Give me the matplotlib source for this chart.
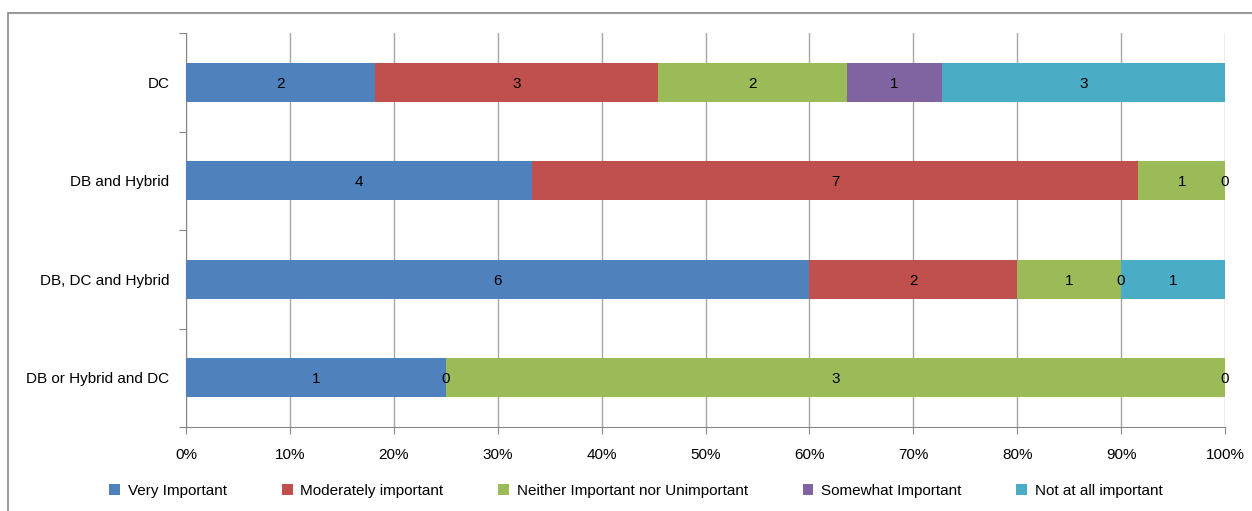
import numpy as np
import matplotlib.pyplot as plt
from matplotlib.patches import Rectangle
from matplotlib.ticker import PercentFormatter

plt.rcParams['font.family'] = ['Liberation Sans', 'DejaVu Sans']

categories = ["DC", "DB and Hybrid", "DB, DC and Hybrid", "DB or Hybrid and DC"]
series = ["Very Important", "Moderately important", "Neither Important nor Unimportant",
          "Somewhat Important", "Not at all important"]
very = [2, 4, 6, 1]
moderately = [3, 7, 2, 0]
neither = [2, 1, 1, 3]
somewhat = [1, 0, 0, 0]
not_at_all = [3, 0, 1, 0]
colors = ["#4F81BD", "#C0504D", "#9BBB59", "#8064A2", "#4BACC6"]

counts = np.array([very, moderately, neither, somewhat, not_at_all], dtype=float)
totals = counts.sum(axis=0)
shares = counts / totals

fig = plt.figure(figsize=(12.52, 5.11), dpi=100)
ax = fig.add_axes([186/1252, 1-427/511, (1225-186)/1252, (427-33)/511])

y = np.arange(len(categories))[::-1]
left = np.zeros(len(categories))
placed = set()
for i in range(len(series)):
    ax.barh(y, shares[i], left=left, height=0.4, color=colors[i], label=series[i], zorder=3)
    for j in range(len(categories)):
        xc = round(left[j] + shares[i][j] / 2, 6)
        # zero-width segments at the same spot share one label
        if (j, xc) in placed:
            continue
        placed.add((j, xc))
        ax.text(xc, y[j], "%d" % counts[i][j], ha='center', va='center_baseline',
                fontsize=11, color='black', zorder=4)
    left = left + shares[i]

ax.set_xlim(0, 1)
ax.set_ylim(-0.5, len(categories) - 0.5)
ax.set_xticks(np.arange(0, 1.01, 0.1))
ax.xaxis.set_major_formatter(PercentFormatter(1.0, decimals=0))
ax.set_yticks(np.arange(-0.5, len(categories), 1.0))
ax.set_yticklabels([])
ax.set_yticks(y, minor=True)
ax.set_yticklabels(categories, minor=True)
ax.tick_params(axis='y', which='minor', length=0, pad=12, labelsize=11)
ax.tick_params(axis='y', which='major', length=5, color='#868686')
ax.tick_params(axis='x', length=5, color='#868686', pad=10, labelsize=11)
ax.grid(axis='x', color='#A6A6A6', linewidth=1, zorder=0)
for s in ['top', 'right']:
    ax.spines[s].set_visible(False)
for s in ['left', 'bottom']:
    ax.spines[s].set_color('#868686')

leg = fig.legend(loc='center', bbox_to_anchor=(0.508, 1-491/511), ncol=5, frameon=False,
                 fontsize=11, handlelength=0.7, handleheight=0.7, columnspacing=3.6,
                 handletextpad=0.5)

fig.add_artist(Rectangle((8/1252, -0.05), 1.1, 1-13/511+0.05, transform=fig.transFigure,
                         fill=False, edgecolor='#868686', linewidth=1.2))

fig.savefig("out.png", dpi=100)
